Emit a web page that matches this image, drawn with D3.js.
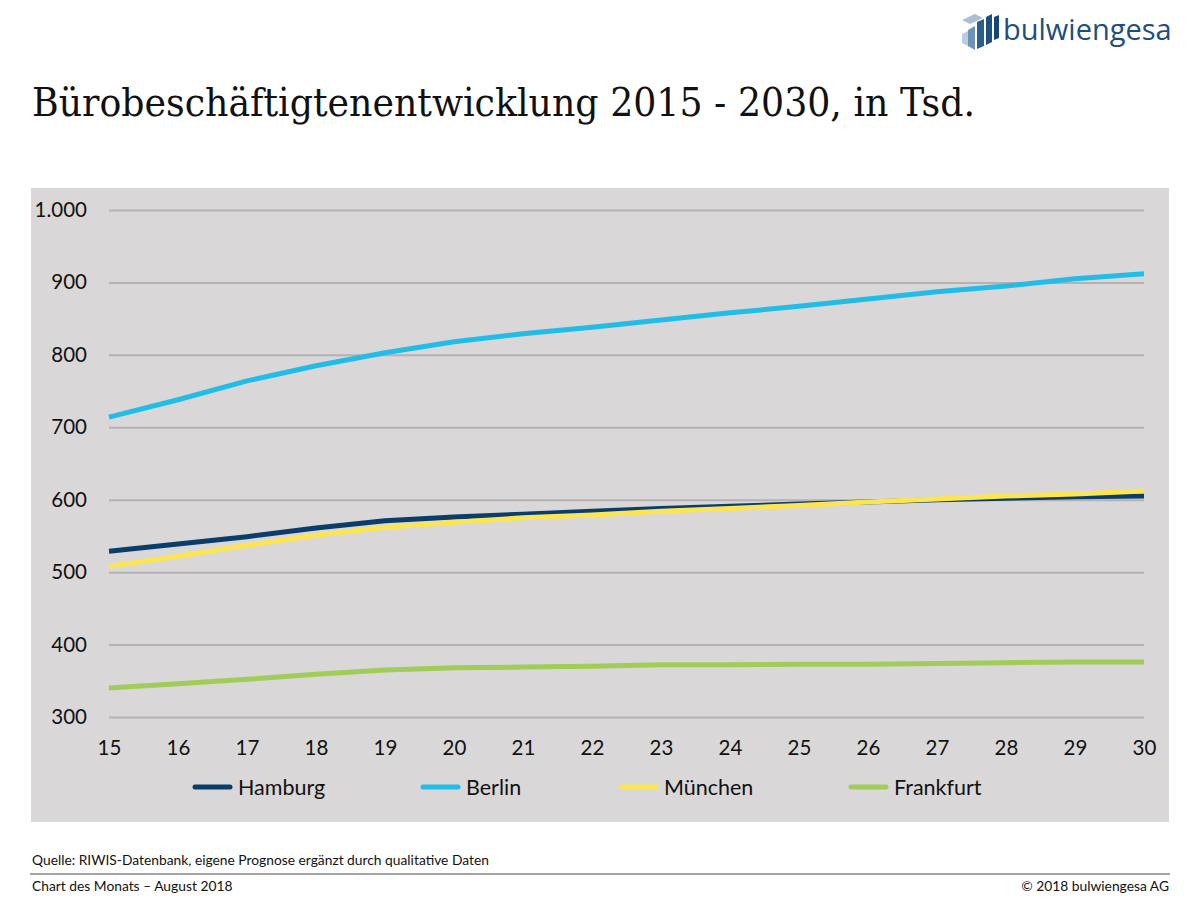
<!DOCTYPE html>
<html><head><meta charset="utf-8">
<script src="https://cdn.jsdelivr.net/npm/d3@7"></script>
<style>body{margin:0;background:#fff;} svg{display:block;}</style>
</head><body>
<script>
const years = [15,16,17,18,19,20,21,22,23,24,25,26,27,28,29,30];
const hamburg = [529,539,549,561,571,576,580,584,588,591,594,597,600,602,604,605];
const berlin = [714,738,764,785,803,818,829,838,848,858,867,877,887,895,905,912];
const muenchen = [508,522,537,551,562,569,575,579,584,588,592,597,601,605,608,612];
const frankfurt = [340,346,352,359,365,368,369,370,372,372,373,373,374,375,376,376];
const yTicks = [300,400,500,600,700,800,900,1000];
const seriesNames = ["Hamburg","Berlin","München","Frankfurt"];
const seriesColors = ["#0b3d6b","#22bde6","#fbe552","#a0cc58"];
const seriesData = [hamburg, berlin, muenchen, frankfurt];

const W=1200,H=900;
const svg=d3.select("body").append("svg").attr("width",W).attr("height",H);
const labelFont="Lato, 'Open Sans', sans-serif";

// Logo
const logo=svg.append("g");
logo.append("polygon").attr("points","962,20 975,14 983,18 970,24").attr("fill","#a9c0d6");
logo.append("polygon").attr("points","968,30 975,26 975,50 968,46").attr("fill","#6f93b8");
logo.append("polygon").attr("points","977,22 984,19 984,46 977,49").attr("fill","#2c5d8c");
logo.append("polygon").attr("points","986,17 992,14 992,42 986,45").attr("fill","#1f4f80");
logo.append("polygon").attr("points","994,17 999,15 999,38 994,40").attr("fill","#154574");
logo.append("polygon").attr("points","962,34 968,31 968,46 962,43").attr("fill","#b9cde0");
logo.append("text").attr("x",1003).attr("y",40).attr("font-family","'Open Sans', sans-serif")
  .attr("font-size",29).attr("fill","#1d4e7e").text("bulwiengesa");

// Title
svg.append("text").attr("x",32).attr("y",116).attr("font-family","'DejaVu Serif', 'Liberation Serif', serif")
  .attr("font-size",40).attr("fill","#111").attr("textLength",943).attr("lengthAdjust","spacingAndGlyphs")
  .text("Bürobeschäftigtenentwicklung 2015 - 2030, in Tsd.");

// Panel
svg.append("rect").attr("x",31).attr("y",188).attr("width",1138).attr("height",634).attr("fill","#d9d7d8");

const x=d3.scaleLinear().domain([15,30]).range([109,1144]);
const y=d3.scaleLinear().domain([300,1000]).range([717,210]);

// grid
const grid=svg.append("g").attr("transform","translate(109,0)")
  .call(d3.axisLeft(y).tickValues(yTicks).tickSize(-1035).tickFormat(""));
grid.select(".domain").remove();
grid.selectAll("line").attr("stroke","#b4b2b3").attr("stroke-width",2);

// y labels
const fmt=d=>d>=1000?d3.format(",")(d).replace(",","."):String(d);
const ya=svg.append("g").attr("transform","translate(87,0)")
  .call(d3.axisLeft(y).tickValues(yTicks).tickSize(0).tickPadding(0).tickFormat(fmt));
ya.select(".domain").remove();
ya.selectAll("text").attr("font-family",labelFont).attr("font-size",20.5).attr("fill","#111");

// x labels
const xa=svg.append("g").attr("transform","translate(0,740)")
  .call(d3.axisBottom(x).tickValues(years).tickSize(0).tickPadding(0).tickFormat(d=>String(d)));
xa.select(".domain").remove();
xa.selectAll("text").attr("font-family",labelFont).attr("font-size",20.5).attr("fill","#111");

// lines
const line=d3.line().x((d,i)=>x(years[i])).y(d=>y(d));
const drawOrder=[1,3,0,2];
drawOrder.forEach(k=>{
  svg.append("path").datum(seriesData[k]).attr("d",line).attr("fill","none")
    .attr("stroke",seriesColors[k]).attr("stroke-width",5).attr("stroke-linejoin","round");
});

// legend
const legX=[195,423,621,851];
seriesNames.forEach((n,i)=>{
  svg.append("line").attr("x1",legX[i]).attr("x2",legX[i]+35).attr("y1",787).attr("y2",787)
    .attr("stroke",seriesColors[i]).attr("stroke-width",5).attr("stroke-linecap","round");
  svg.append("text").attr("x",legX[i]+43).attr("y",795).attr("font-family",labelFont)
    .attr("font-size",21.5).attr("fill","#111").text(n);
});

// footer
svg.append("text").attr("x",32).attr("y",865).attr("font-family",labelFont).attr("font-size",13.8)
  .attr("fill","#111").text("Quelle: RIWIS-Datenbank, eigene Prognose ergänzt durch qualitative Daten");
svg.append("line").attr("x1",30).attr("x2",1170).attr("y1",874).attr("y2",874).attr("stroke","#888").attr("stroke-width",1.5);
svg.append("text").attr("x",32).attr("y",891).attr("font-family",labelFont).attr("font-size",13.8)
  .attr("fill","#111").text("Chart des Monats – August 2018");
svg.append("text").attr("x",1169).attr("y",891).attr("text-anchor","end").attr("font-family",labelFont).attr("font-size",13.8)
  .attr("fill","#111").text("© 2018 bulwiengesa AG");
</script>
</body></html>
